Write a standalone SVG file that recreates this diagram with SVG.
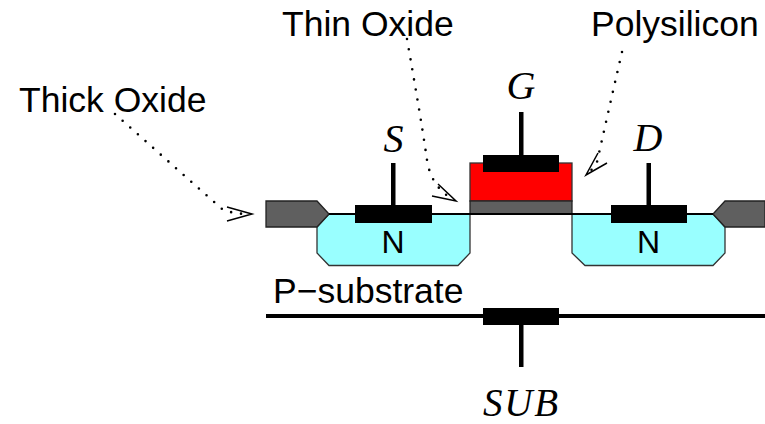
<svg xmlns="http://www.w3.org/2000/svg" width="765" height="424" viewBox="0 0 765 424">
<style>
.l{font-family:"Liberation Sans",Arial,sans-serif;font-size:35.500px;fill:#000}
.n{font-family:"Liberation Sans",Arial,sans-serif;font-size:32px;fill:#000;text-anchor:middle}
.m{font-family:"Liberation Serif","Times New Roman",serif;font-style:italic;font-size:40px;fill:#000;text-anchor:middle}
.ox{fill:#5f5f5f;stroke:#222;stroke-width:1.3}
.well{fill:#99ffff;stroke:#333;stroke-width:1.3}
.k{fill:#000}
.dot{fill:none;stroke:#000;stroke-width:2.6;stroke-linecap:round;stroke-dasharray:0 10.2}
.head{fill:none;stroke:#000;stroke-width:1.5}
</style>
<g id="n-well-left"><path class="well" d="M317 227L329 214H470V253L458 265.500H329L317 253Z"/><text class="n" x="393" y="253">N</text></g>
<g id="n-well-right"><path class="well" d="M572 214H713L725 227V253L713 265.500H585L572 253Z"/></g>
<g id="thick-oxide-left"><path class="ox" d="M266 201H317L329 214L317 227H266Z"/></g>
<g id="thick-oxide-right"><path class="ox" d="M765 201H725L713 214L725 227H765Z"/></g>
<g id="polysilicon"><rect x="470" y="163" width="102" height="38" fill="#f00" stroke="#333" stroke-width="1.300"/></g>
<g id="thin-oxide"><rect class="ox" x="470" y="201" width="102" height="13"/></g>
<g id="source"><rect class="k" x="391" y="163" width="4.500" height="42"/><rect class="k" x="355" y="205" width="77" height="18"/><text class="m" x="393.500" y="152">S</text></g>
<g id="gate"><rect class="k" x="519" y="112" width="4.500" height="43"/><rect class="k" x="483" y="155" width="76" height="17"/><text class="m" x="521" y="99">G</text></g>
<g id="drain"><rect class="k" x="646.500" y="163" width="4.500" height="42"/><rect class="k" x="611" y="205" width="76" height="18"/><text class="m" x="648" y="151">D</text><text class="n" x="648.500" y="253">N</text></g>
<g id="substrate"><rect class="k" x="266" y="314" width="499" height="4"/><rect class="k" x="483" y="308" width="76" height="17"/><rect class="k" x="519" y="325" width="4.500" height="42"/><text class="l" x="273" y="303">P−substrate</text><text class="m" x="483" y="415.500" style="font-size:39px;text-anchor:start" textLength="75">SUB</text></g>
<g id="labels"><text class="l" x="19" y="112">Thick Oxide</text><text class="l" x="282" y="36">Thin Oxide</text><text class="l" x="591" y="36">Polysilicon</text></g>
<g id="connectors">
<rect x="329" y="213" width="141" height="2" class="k"/><rect x="572" y="213" width="141" height="2" class="k"/><rect x="470" y="213" width="102" height="2" class="k"/>
<path class="dot" d="M115 114L222 209Q232 214 250 214"/>
<path class="head" d="M227 207L252 214L227 221"/>
<path class="dot" d="M407 39C415 85 422 125 427 160C430 180 440 192 454 200"/>
<path class="head" d="M438 184L456 201L432 196"/>
<path class="dot" d="M622 52C612 95 602 140 597 162Q594 168 587 174"/>
<path class="head" d="M598 153L586 175L607 163"/>
</g>
</svg>
